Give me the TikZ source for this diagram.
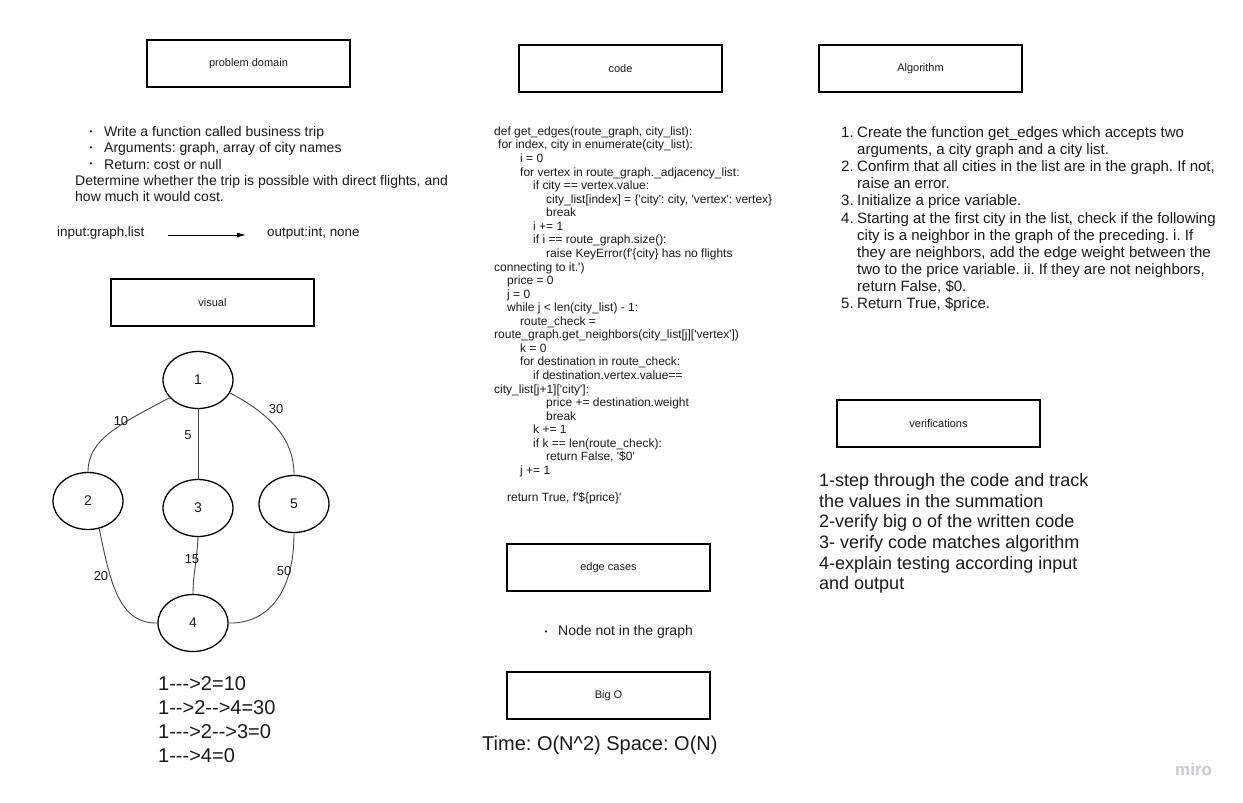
\documentclass[tikz,border=0pt]{standalone}
\usepackage{fontspec}
\setmainfont{Liberation Sans}[Ligatures=TeXOff]
\usetikzlibrary{shapes.geometric,arrows.meta}
\newcommand\ind[1]{\hspace*{#1pt}}
\newcommand\fs[2]{\fontsize{#1}{#2}\selectfont}
\definecolor{ink}{HTML}{1A1A1A}
\definecolor{edgegray}{HTML}{444444}
\definecolor{mirogray}{HTML}{C9CAD6}
% code line: name, line number, indent (px), text
\newcommand\cl[4]{\node[codeline] (#1) at ({494+#3},{135.3+13.57*(#2-1)}) {#4};}
\begin{document}
\frenchspacing
\begin{tikzpicture}[x=1pt,y=-1pt,
  titlebox/.style={draw=black,line width=1.3pt,minimum width=203,minimum height=47,inner sep=0,font=\fs{11}{13},text=ink},
  city/.style={ellipse,draw=black,line width=1.3pt,minimum width=70,minimum height=57,inner sep=0,font=\fs{14}{16},text=ink},
  link/.style={draw=edgegray,line width=0.9pt},
  wlabel/.style={font=\fs{13}{15},text=ink,inner sep=0},
  txt/.style={text=ink,inner sep=0,align=left},
  codeline/.style={text=ink,inner sep=0,anchor=base west,font=\fs{12}{13.6}}]
\useasboundingbox (0,0) rectangle (1243,803);
\fill[white] (0,0) rectangle (1243,803);

% title boxes
\node[titlebox] (pd) at (248.5,63.5) {problem domain};
\node[titlebox] (code) at (620.5,68.5) {code};
\node[titlebox] (alg) at (920.5,68.5) {Algorithm};
\node[titlebox] (vis) at (212.5,302.5) {visual};
\node[titlebox] (ver) at (938.5,423.5) {verifications};
\node[titlebox] (edge) at (608.5,567.5) {edge cases};
\node[titlebox] (bigo) at (608.5,695.5) {Big O};

% problem domain bullets
\foreach \yy/\nm in {133/b1,149/b2,165/b3}
  \node[txt,font=\fs{8}{9}] (\nm) at (91,\yy) {•};
\node[txt,anchor=north west,font=\fs{14}{16.1}] (pdtext) at (75,126.5)
  {\ind{29}Write a function called business trip\\
   \ind{29}Arguments: graph, array of city names\\
   \ind{29}Return: cost or null\\
   Determine whether the trip is possible with direct flights, and\\
   how much it would cost.};

% input / output
\node[txt,anchor=west,font=\fs{13.4}{15}] (inp) at (57,233) {input:graph,list};
\node[txt,anchor=west,font=\fs{13.4}{15}] (outp) at (267,233) {output:int, none};
\draw[line width=0.9pt,-{Latex[length=9pt,width=5pt]}] ([xshift=23pt,yshift=-2pt]inp.east) -- ([xshift=-21pt,yshift=-2pt]outp.west);

% graph
\node[city] (n1) at (198,380) {1};
\node[city] (n2) at (88,501) {2};
\node[city] (n3) at (198,508) {3};
\node[city] (n5) at (294,504) {5};
\node[city] (n4) at (193,623) {4};
\draw[link] (n1.212) .. controls (118,425) and (88,440) .. (n2.north);
\draw[link] (n1.south) -- (n3.north);
\draw[link] (n1.338) .. controls (272,415) and (294,440) .. (n5.north);
\draw[link] (n2.292) .. controls (110,580) and (118,624) .. (n4.west);
\draw[link] (n3.south) .. controls (197,560) and (193,575) .. (n4.north);
\draw[link] (n5.south) .. controls (294,600) and (262,624) .. (n4.east);
\node[wlabel] (l10) at (121,421) {10};
\node[wlabel] (l5) at (188,435) {5};
\node[wlabel] (l30) at (276,409) {30};
\node[wlabel] (l20) at (101,576) {20};
\node[wlabel] (l15) at (192,559) {15};
\node[wlabel] (l50) at (284,571) {50};

% paths
\node[txt,anchor=north west,font=\fs{20}{24}] (paths) at (158,676)
  {1--->2=10\\1-->2-->4=30\\1--->2-->3=0\\1--->4=0};

% code
\cl{c1}{1}{0}{def get\_edges(route\_graph, city\_list):}
\cl{c2}{2}{4}{for index, city in enumerate(city\_list):}
\cl{c3}{3}{26}{i = 0}
\cl{c4}{4}{26}{for vertex in route\_graph.\_adjacency\_list:}
\cl{c5}{5}{39}{if city == vertex.value:}
\cl{c6}{6}{52}{city\_list[index] = \{'city': city, 'vertex': vertex\}}
\cl{c7}{7}{52}{break}
\cl{c8}{8}{39}{i += 1}
\cl{c9}{9}{39}{if i == route\_graph.size():}
\cl{c10}{10}{52}{raise KeyError(f'\{city\} has no flights}
\cl{c11}{11}{0}{connecting to it.')}
\cl{c12}{12}{13}{price = 0}
\cl{c13}{13}{13}{j = 0}
\cl{c14}{14}{13}{while j < len(city\_list) - 1:}
\cl{c15}{15}{26}{route\_check =}
\cl{c16}{16}{0}{route\_graph.get\_neighbors(city\_list[j]['vertex'])}
\cl{c17}{17}{26}{k = 0}
\cl{c18}{18}{26}{for destination in route\_check:}
\cl{c19}{19}{39}{if destination.vertex.value==}
\cl{c20}{20}{0}{city\_list[j+1]['city']:}
\cl{c21}{21}{52}{price += destination.weight}
\cl{c22}{22}{52}{break}
\cl{c23}{23}{39}{k += 1}
\cl{c24}{24}{39}{if k == len(route\_check):}
\cl{c25}{25}{52}{return False, '\$0'}
\cl{c26}{26}{26}{j += 1}
\cl{c28}{28}{13}{return True, f'\$\{price\}'}

% edge cases
\node[txt,font=\fs{8}{9}] (eb) at (546,633) {•};
\node[txt,anchor=west,font=\fs{14}{16}] (ectext) at (558,632) {Node not in the graph};

% big O
\node[txt,anchor=west,font=\fs{20}{24}] (bigotext) at (482,745) {Time: O(N\^{}2) Space: O(N)};

% algorithm
\node[txt,anchor=north west,font=\fs{15}{17.1}] (algtext) at (841,126.5)
  {\makebox[16pt][l]{1.}Create the function get\_edges which accepts two\\
   \ind{16}arguments, a city graph and a city list.\\
   \makebox[16pt][l]{2.}Confirm that all cities in the list are in the graph. If not,\\
   \ind{16}raise an error.\\
   \makebox[16pt][l]{3.}Initialize a price variable.\\
   \makebox[16pt][l]{4.}Starting at the first city in the list, check if the following\\
   \ind{16}city is a neighbor in the graph of the preceding. i. If\\
   \ind{16}they are neighbors, add the edge weight between the\\
   \ind{16}two to the price variable. ii. If they are not neighbors,\\
   \ind{16}return False, \$0.\\
   \makebox[16pt][l]{5.}Return True, \$price.};

% verifications
\node[txt,anchor=north west,font=\fs{18}{20.6}] (vertext) at (819,473.5)
  {1-step through the code and track\\
   the values in the summation\\
   2-verify big o of the written code\\
   3- verify code matches algorithm\\
   4-explain testing according input\\
   and output};

% watermark
\node[txt,anchor=west,font=\fs{17}{19}\bfseries,text=mirogray] (miro) at (1175,769) {miro};
\end{tikzpicture}
\end{document}
